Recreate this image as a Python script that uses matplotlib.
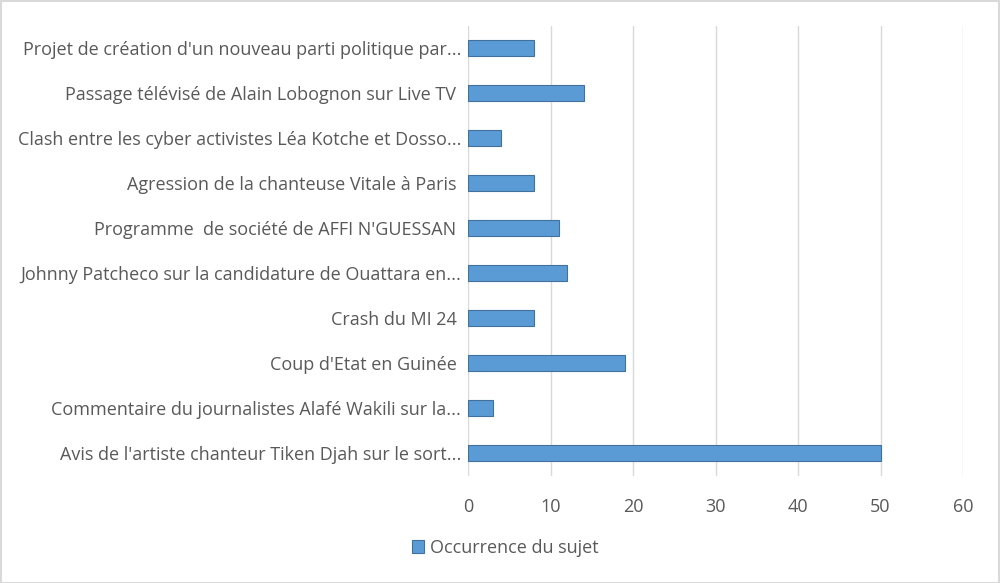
import matplotlib
matplotlib.use("Agg")
import matplotlib.pyplot as plt
from matplotlib.patches import Rectangle

categories = [
    "Projet de création d'un nouveau parti politique par...",
    "Passage télévisé de Alain Lobognon sur Live TV ",
    "Clash entre les cyber activistes Léa Kotche et Dosso...",
    "Agression de la chanteuse Vitale à Paris ",
    "Programme  de société de AFFI N'GUESSAN ",
    "Johnny Patcheco sur la candidature de Ouattara en...",
    "Crash du MI 24 ",
    "Coup d'Etat en Guinée ",
    "Commentaire du journalistes Alafé Wakili sur la...",
    "Avis de l'artiste chanteur Tiken Djah sur le sort...",
]
values = [8, 14, 4, 8, 11, 12, 8, 19, 3, 50]
series_name = "Occurrence du sujet"
xticks = [0, 10, 20, 30, 40, 50, 60]

plt.rcParams['font.family'] = ['Open Sans', 'DejaVu Sans']
W, H = 1000, 583
fig = plt.figure(figsize=(W/100, H/100), dpi=100)
ax = fig.add_axes([468/W, 1-475.5/H, (963-468)/W, (475.5-25.5)/H])

y = list(range(len(categories)))[::-1]
bars = ax.barh(y, values, height=0.36, color='#5B9BD5', edgecolor='#41719C',
               linewidth=0.8, label=series_name, zorder=3)
ax.set_xlim(0, 60)
ax.set_ylim(-0.5, len(categories)-0.5)
ax.set_xticks(xticks)
ax.set_yticks(y)
ax.set_yticklabels(categories)
ax.xaxis.grid(True, color='#D9D9D9', linewidth=1, zorder=0)
for s in ax.spines.values():
    s.set_visible(False)
ax.tick_params(axis='both', length=0, labelsize=13, colors='#595959')
ax.tick_params(axis='x', pad=16)
ax.tick_params(axis='y', pad=5)

leg = fig.legend(handles=[bars], labels=[series_name], loc='center',
                 bbox_to_anchor=(505/W, 1-548/H), frameon=False,
                 fontsize=13, handlelength=0.7, handleheight=0.7,
                 handletextpad=0.3, labelcolor='#595959')

fig.patches.append(Rectangle((0.5/W, 0.5/H), 1-1.5/W, 1-1.5/H, transform=fig.transFigure,
                             fill=False, edgecolor='#D9D9D9', linewidth=1.5))
fig.savefig("out.png", dpi=100, facecolor='white')
